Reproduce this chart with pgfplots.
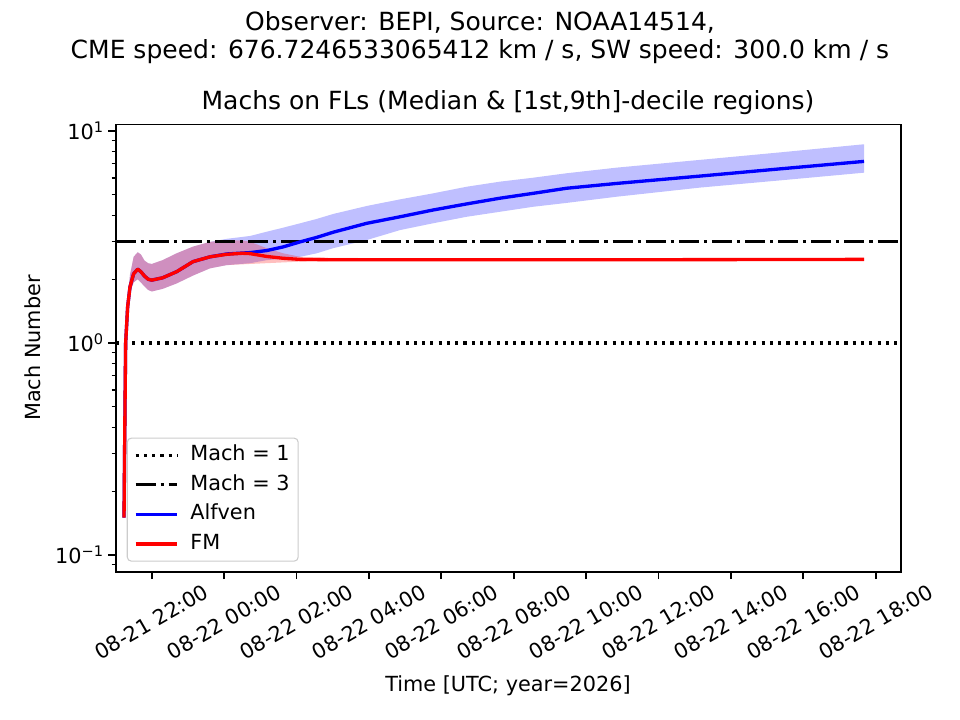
\documentclass[border=0pt]{standalone}
\usepackage{fontspec}
\setmainfont{DejaVu Sans}
\usepackage{pgfplots}
\pgfplotsset{compat=1.18}
\usepackage{pgfplotstable}
\usepgfplotslibrary{fillbetween}
\newcommand\fs{\fontsize{15.6pt}{18.7pt}\selectfont}
\newcommand\ft{\fontsize{18.75pt}{21pt}\selectfont}
\definecolor{mblue}{RGB}{0,0,255}
\definecolor{mred}{RGB}{255,0,0}
\definecolor{legedge}{RGB}{204,204,204}

% FM (fast magnetosonic) Mach number: median, 1st decile, 9th decile
\pgfplotstableread{
t med lo hi
21.235 0.15 0.15 0.15
21.262 0.50 0.48 0.52
21.280 1.00 0.95 1.08
21.335 1.48 1.38 1.62
21.400 1.84 1.72 2.10
21.500 2.12 1.93 2.55
21.613 2.23 2.00 2.68
21.700 2.17 1.93 2.62
21.800 2.07 1.85 2.45
21.900 2.00 1.78 2.38
22.000 1.98 1.75 2.36
22.300 2.03 1.80 2.46
22.690 2.17 1.91 2.65
23.140 2.42 2.08 2.85
23.610 2.55 2.25 3.00
24.070 2.62 2.33 3.05
24.500 2.65 2.35 3.05
24.720 2.64 2.36 3.00
25.180 2.56 2.38 2.80
25.630 2.51 2.40 2.65
26.100 2.48 2.42 2.55
27.000 2.47 2.44 2.52
30.000 2.47 2.44 2.51
35.000 2.47 2.44 2.51
41.677 2.48 2.44 2.51
}\fmtab

% Alfven Mach number: median, 1st decile, 9th decile
\pgfplotstableread{
t med lo hi
21.235 0.15 0.15 0.15
21.262 0.50 0.48 0.52
21.280 1.00 0.95 1.08
21.335 1.48 1.38 1.62
21.400 1.84 1.72 2.10
21.500 2.12 1.93 2.55
21.613 2.23 2.00 2.68
21.700 2.17 1.93 2.62
21.800 2.07 1.85 2.45
21.900 2.00 1.78 2.38
22.000 1.98 1.75 2.36
22.300 2.03 1.80 2.46
22.690 2.17 1.91 2.65
23.140 2.42 2.08 2.85
23.610 2.55 2.25 3.00
24.070 2.63 2.33 3.10
24.720 2.67 2.38 3.20
25.180 2.73 2.46 3.35
25.630 2.84 2.50 3.50
26.100 3.00 2.55 3.67
26.560 3.15 2.65 3.85
27.010 3.33 2.80 4.06
27.940 3.67 3.06 4.43
28.860 3.94 3.41 4.76
29.770 4.24 3.67 5.08
30.700 4.53 3.94 5.46
31.620 4.82 4.16 5.77
32.530 5.08 4.39 6.02
33.460 5.37 4.58 6.32
34.850 5.66 4.90 6.72
37.150 6.13 5.41 7.31
39.360 6.63 5.85 7.93
41.677 7.19 6.36 8.66
}\alftab

\begin{document}
\begin{tikzpicture}
\begin{axis}[
  at={(0pt,0pt)}, anchor=south west,
  scale only axis, width=589pt, height=335.4pt,
  ymode=log, log basis y=10,
  xmin=21.006, xmax=42.70, ymin=0.0834, ymax=10.73,
  xtick={22,24,...,42},
  xticklabels={08-21 22:00,08-22 00:00,08-22 02:00,08-22 04:00,08-22 06:00,08-22 08:00,08-22 10:00,08-22 12:00,08-22 14:00,08-22 16:00,08-22 18:00},
  ytick={0.1,1,10},
  yticklabels={10\textsuperscript{−1},10\textsuperscript{0},10\textsuperscript{1}},
  minor ytick={0.09,0.2,0.3,0.4,0.5,0.6,0.7,0.8,0.9,2,3,4,5,6,7,8,9},
  minor xtick={},
  tick align=outside, xtick pos=bottom, ytick pos=left,
  major tick length=5.5pt, minor tick length=3.1pt,
  every major tick/.append style={line width=1.25pt, black},
  every minor tick/.append style={line width=0.94pt, black},
  axis line style={line width=1.25pt},
  tick label style={font=\fs},
  xticklabel style={anchor=center, yshift=-32pt, rotate=30},
  yticklabel style={anchor=east},
  legend cell align=left,
  legend style={at={(axis description cs:0.014,0.0224)}, anchor=south west,
    font=\fs, draw=legedge, line width=0.8pt, rounded corners=3.1pt,
    fill=white, fill opacity=0.8, text opacity=1, draw opacity=1,
    inner xsep=5pt, inner ysep=4pt, row sep=4.5pt,
    nodes={inner sep=1.5pt, text height=11.5pt, text depth=3.2pt},
    /tikz/every odd column/.append style={column sep=7pt}},
  legend image code/.code={\draw[#1] (0pt,0pt) -- (31.3pt,0pt);},
  clip=true,
]
% decile bands
\addplot[name path=au, draw=none, forget plot] table[x=t, y=hi] {\alftab};
\addplot[name path=al, draw=none, forget plot] table[x=t, y=lo] {\alftab};
\addplot[fill=mblue, fill opacity=0.25, draw=none, forget plot] fill between[of=au and al];
\addplot[name path=fu, draw=none, forget plot] table[x=t, y=hi] {\fmtab};
\addplot[name path=fl, draw=none, forget plot] table[x=t, y=lo] {\fmtab};
\addplot[fill=mred, fill opacity=0.25, draw=none, forget plot] fill between[of=fu and fl];
% reference lines
\addplot[black, line width=2.34pt, line cap=butt, dash pattern=on 2.34pt off 3.87pt] coordinates {(21.006,1) (42.70,1)};
\addlegendentry{Mach = 1}
\addplot[black, line width=2.34pt, line cap=butt, dash pattern=on 15pt off 3.75pt on 2.34pt off 3.75pt] coordinates {(21.006,3) (42.70,3)};
\addlegendentry{Mach = 3}
% medians
\addplot[mblue, line width=2.5pt, line join=round] table[x=t, y=med] {\alftab};
\addlegendentry{Alfven}
\addplot[mred, line width=2.5pt, line join=round] table[x=t, y=med] {\fmtab};
\addlegendentry{FM}
\end{axis}
\node[font=\ft, align=center] at (273.2pt,400.3pt) {Observer: BEPI, Source: NOAA14514,\\CME speed: 676.7246533065412 km / s, SW speed: 300.0 km / s};
\node[font=\ft] at (294.2pt,351.5pt) {Machs on FLs (Median \& [1st,9th]-decile regions)};
\node[font=\fs] at (294.2pt,-85.8pt) {Time [UTC; year=2026]};
\node[font=\fs, rotate=90] at (-62.0pt,167.8pt) {Mach Number};
\pgfresetboundingbox
\path[use as bounding box] (-86.8pt,-111.2pt) rectangle (633.2pt,428.8pt);
\end{tikzpicture}
\end{document}
